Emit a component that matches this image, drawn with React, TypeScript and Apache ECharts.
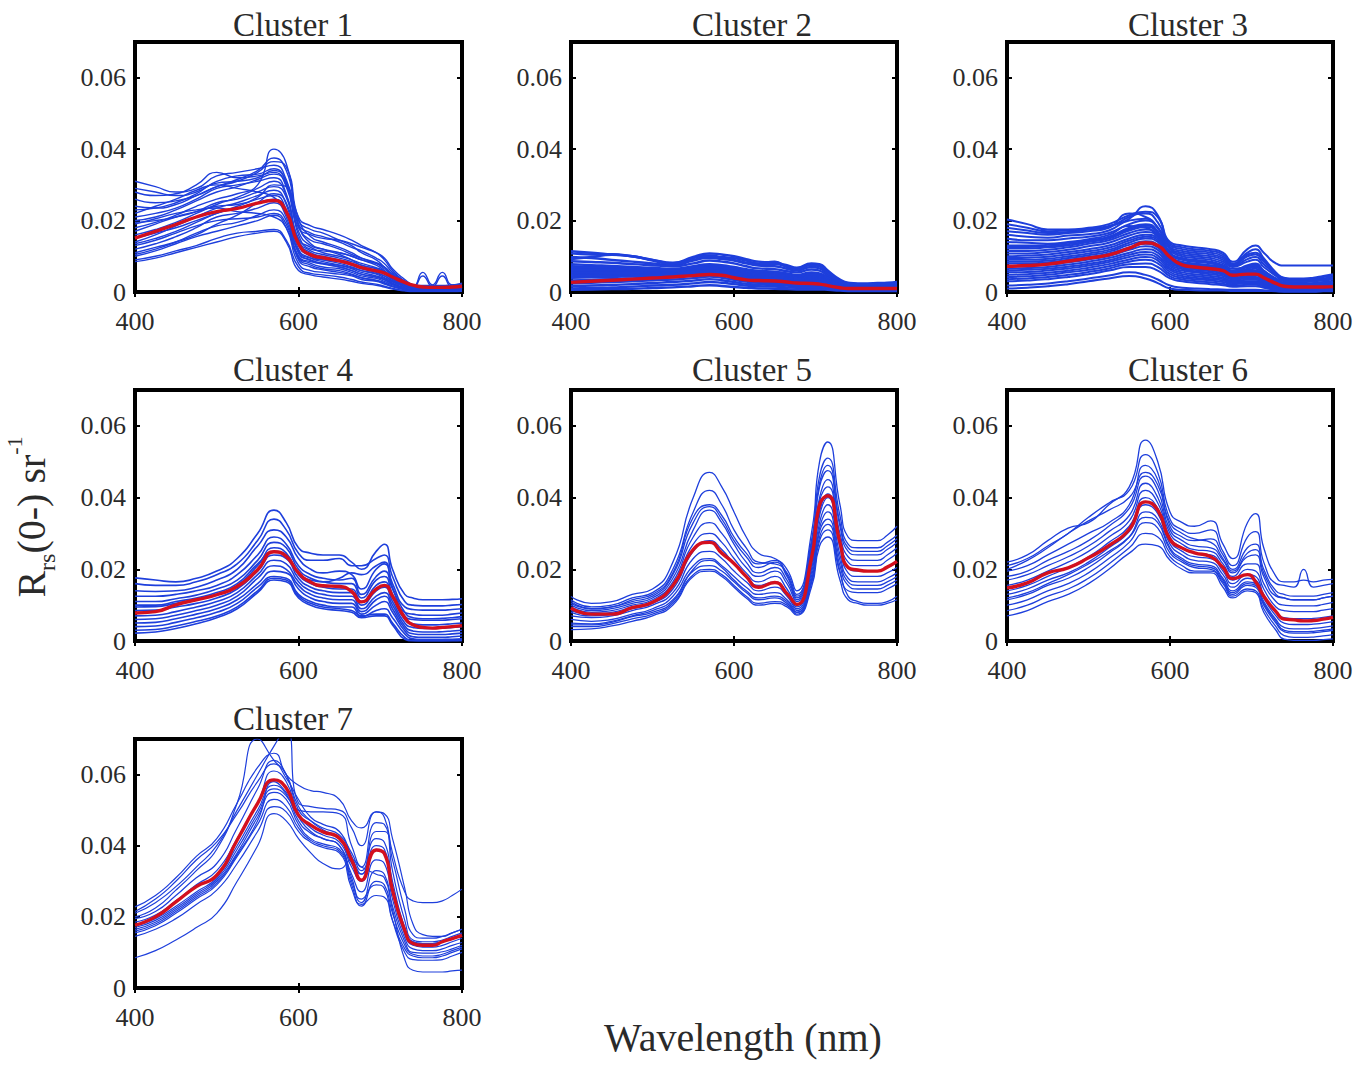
import React, { useEffect, useRef } from 'react';
import * as echarts from 'echarts';

// Wavelength sampling (nm) shared by every spectrum
const WAVELENGTHS = [400, 425, 450, 475, 500, 525, 550, 570, 585, 600, 615, 630, 650, 665, 677, 695, 705, 715, 730, 740, 752, 764, 776, 788, 800];
const X_TICKS = [400, 600, 800];
const Y_TICKS = [0, 0.02, 0.04, 0.06];
const TITLES = ['Cluster 1', 'Cluster 2', 'Cluster 3', 'Cluster 4', 'Cluster 5', 'Cluster 6', 'Cluster 7'];
const X_LABEL = 'Wavelength (nm)';

// All reflectance values below are in units of 1e-3 sr^-1
const C1_MEAN = [15.1, 17.0, 18.9, 21.0, 22.5, 23.4, 24.9, 25.6, 22.5, 13.5, 10.4, 9.6, 8.7, 7.8, 6.8, 5.9, 5.3, 4.2, 2.7, 1.9, 1.4, 1.3, 1.3, 1.4, 1.6];
const C1_SPECTRA = [
  [31.0, 29.5, 28.0, 29.0, 32.5, 33.5, 34.5, 35.5, 31.5, 20.0, 17.5, 16.5, 14.5, 13.0, 11.0, 9.0, 7.0, 5.0, 3.0, 2.0, 1.8, 1.8, 1.8, 2.0, 2.2],
  [29.0, 28.0, 27.0, 28.0, 31.0, 32.5, 33.0, 34.5, 30.5, 19.0, 16.5, 15.5, 14.0, 12.5, 11.5, 9.5, 8.0, 5.5, 3.0, 1.8, 1.6, 1.6, 1.6, 1.8, 2.0],
  [28.0, 27.0, 27.5, 30.0, 33.5, 32.0, 32.5, 33.5, 29.5, 18.0, 16.0, 15.0, 14.5, 13.5, 12.5, 11.0, 9.5, 6.5, 3.5, 2.0, 1.5, 1.5, 1.5, 1.5, 1.8],
  [26.0, 25.0, 25.5, 27.0, 29.5, 31.5, 34.0, 37.5, 34.0, 21.0, 18.5, 17.5, 16.0, 14.5, 13.0, 11.0, 9.0, 6.0, 3.0, 1.8, 1.5, 1.5, 1.5, 1.5, 1.8],
  [24.0, 23.5, 24.5, 27.0, 29.5, 31.0, 33.5, 36.5, 35.0, 20.5, 15.5, 14.0, 12.5, 11.0, 9.5, 8.0, 6.5, 4.5, 2.5, 1.5, 5.5, 2.0, 5.5, 2.0, 2.5],
  [23.0, 23.5, 25.0, 27.5, 30.5, 31.0, 32.0, 34.0, 31.0, 18.5, 14.5, 13.5, 12.0, 10.5, 9.5, 8.2, 7.0, 4.8, 2.5, 1.4, 1.2, 1.2, 1.2, 1.3, 1.5],
  [22.0, 24.0, 26.0, 28.5, 30.0, 29.0, 28.0, 26.5, 22.0, 11.5, 9.5, 9.0, 8.5, 7.5, 6.5, 5.5, 4.5, 3.0, 1.5, 0.8, 0.8, 0.8, 0.8, 0.8, 1.0],
  [21.0, 22.0, 23.5, 26.0, 29.0, 30.0, 31.0, 32.0, 27.5, 15.0, 12.5, 11.0, 10.0, 9.0, 8.0, 6.8, 5.8, 4.0, 2.0, 1.0, 1.0, 1.0, 1.0, 1.0, 1.3],
  [20.0, 21.0, 23.0, 25.5, 28.0, 29.5, 31.5, 33.0, 30.0, 17.0, 13.0, 12.0, 11.0, 10.0, 9.0, 7.5, 6.0, 4.0, 2.0, 1.0, 1.0, 1.0, 1.0, 1.0, 1.2],
  [19.5, 20.0, 21.0, 22.5, 25.0, 26.0, 28.0, 29.5, 26.5, 14.5, 11.5, 10.5, 9.5, 8.5, 7.5, 6.5, 5.5, 3.8, 2.0, 1.0, 1.0, 1.0, 1.0, 1.0, 1.2],
  [19.0, 20.5, 22.0, 23.0, 23.5, 22.5, 22.0, 21.0, 18.0, 10.0, 8.5, 8.0, 7.5, 6.8, 6.0, 5.2, 4.5, 3.2, 1.8, 1.0, 1.0, 1.0, 1.0, 1.0, 1.2],
  [18.0, 19.5, 21.5, 24.0, 26.0, 27.5, 30.0, 40.0, 36.0, 19.0, 13.5, 12.0, 10.5, 9.0, 7.5, 6.5, 5.5, 3.5, 1.5, 0.8, 0.8, 0.8, 0.8, 0.8, 1.0],
  [17.0, 19.0, 21.0, 22.5, 24.0, 24.5, 26.5, 30.0, 29.5, 16.0, 12.0, 11.5, 11.0, 10.0, 9.0, 8.0, 7.0, 5.0, 2.5, 1.5, 1.2, 1.2, 1.2, 1.2, 1.5],
  [16.0, 17.5, 19.5, 22.0, 24.5, 26.5, 29.0, 31.0, 27.0, 14.0, 11.0, 10.0, 9.0, 8.0, 7.0, 6.0, 5.0, 3.5, 2.0, 1.2, 4.5, 1.5, 4.5, 1.5, 2.0],
  [15.0, 16.5, 18.0, 20.0, 22.0, 24.0, 26.0, 27.0, 23.0, 11.0, 9.0, 8.0, 7.0, 6.0, 5.0, 4.2, 3.5, 2.3, 1.0, 0.5, 0.5, 0.5, 0.5, 0.5, 0.7],
  [14.0, 16.0, 18.5, 21.0, 23.5, 25.0, 27.0, 28.5, 24.5, 12.0, 9.5, 8.5, 7.5, 6.5, 5.5, 4.5, 3.8, 2.5, 1.2, 0.6, 0.6, 0.6, 0.6, 0.6, 0.8],
  [13.5, 15.0, 17.0, 19.5, 22.0, 23.5, 25.0, 26.0, 22.5, 11.0, 8.8, 7.8, 7.0, 6.0, 5.0, 4.2, 3.4, 2.2, 1.0, 0.5, 0.5, 0.5, 0.5, 0.5, 0.6],
  [13.0, 14.5, 16.5, 18.5, 20.0, 20.5, 21.0, 22.0, 19.0, 9.5, 7.5, 6.5, 6.0, 5.0, 4.0, 3.2, 2.5, 1.5, 0.8, 0.4, 0.4, 0.4, 0.4, 0.4, 0.5],
  [12.0, 13.5, 15.5, 18.0, 21.0, 22.0, 23.5, 25.0, 21.0, 10.0, 8.0, 7.0, 6.5, 5.5, 4.5, 3.8, 3.0, 2.0, 1.0, 0.5, 0.5, 0.5, 0.5, 0.5, 0.6],
  [11.0, 12.5, 14.0, 16.0, 19.0, 21.5, 25.0, 27.5, 25.0, 13.0, 10.0, 9.0, 8.0, 7.0, 6.0, 5.0, 4.0, 2.8, 1.5, 0.8, 0.8, 0.8, 0.8, 0.8, 1.0],
  [10.5, 12.0, 14.0, 16.5, 18.5, 19.5, 21.5, 23.0, 20.0, 9.0, 7.0, 6.2, 5.5, 4.8, 4.0, 3.3, 2.6, 1.7, 0.8, 0.4, 0.4, 0.4, 0.4, 0.4, 0.5],
  [10.0, 11.5, 13.5, 15.5, 17.0, 18.5, 20.0, 21.5, 18.0, 8.0, 6.0, 5.5, 5.0, 4.5, 3.5, 3.0, 2.2, 1.5, 0.6, 0.3, 0.3, 0.3, 0.3, 0.3, 0.4],
  [9.0, 10.0, 11.5, 13.0, 15.0, 16.5, 17.0, 17.5, 14.5, 7.0, 5.2, 4.8, 4.2, 3.5, 2.8, 2.2, 1.6, 1.0, 0.4, 0.2, 0.2, 0.2, 0.2, 0.2, 0.3],
  [8.5, 9.5, 11.0, 12.5, 14.0, 15.5, 16.5, 17.0, 14.0, 6.0, 4.8, 4.2, 3.6, 3.0, 2.4, 1.9, 1.4, 0.8, 0.3, 0.1, 0.1, 0.1, 0.1, 0.1, 0.2],
];

const C2_MEAN = [2.7, 3.0, 3.3, 3.6, 3.9, 4.2, 4.6, 4.9, 4.7, 4.0, 3.4, 3.2, 3.1, 2.8, 2.5, 2.4, 2.2, 1.8, 1.2, 1.0, 1.0, 1.0, 1.0, 1.0, 1.0];
const C2_SPECTRA = [
  [11.4, 11.0, 10.5, 10.0, 9.0, 8.2, 9.8, 10.8, 10.5, 10.0, 9.2, 8.5, 8.2, 7.5, 6.8, 8.0, 7.8, 6.0, 3.5, 2.6, 2.4, 2.4, 2.5, 2.6, 2.8],
  [10.8, 10.5, 10.6, 10.0, 9.0, 8.0, 9.5, 10.2, 9.8, 9.5, 8.8, 8.0, 8.5, 7.0, 6.5, 7.8, 7.4, 5.5, 3.0, 2.4, 2.2, 2.2, 2.3, 2.4, 2.6],
  [9.8, 9.5, 9.0, 8.5, 8.0, 7.5, 8.8, 9.6, 9.2, 8.8, 8.0, 7.4, 7.2, 6.5, 6.0, 7.0, 6.6, 5.0, 2.8, 2.0, 1.8, 1.8, 1.9, 2.0, 2.2],
  [9.2, 9.8, 10.4, 10.0, 8.8, 7.8, 9.0, 10.0, 9.6, 9.0, 8.2, 7.8, 7.8, 7.2, 6.6, 7.5, 7.2, 5.2, 3.0, 2.2, 2.0, 2.0, 2.1, 2.2, 2.4],
  [8.6, 8.4, 8.2, 7.8, 7.5, 7.2, 8.0, 8.8, 8.5, 8.0, 7.2, 6.6, 6.4, 5.8, 5.5, 6.3, 6.0, 4.5, 2.5, 1.8, 1.6, 1.6, 1.7, 1.8, 2.0],
  [7.8, 7.5, 7.3, 7.0, 6.8, 6.5, 7.2, 7.8, 7.5, 7.0, 6.4, 5.9, 5.7, 5.2, 4.8, 5.5, 5.2, 4.0, 2.2, 1.6, 1.4, 1.4, 1.5, 1.6, 1.8],
  [7.2, 7.1, 7.0, 6.8, 6.5, 6.3, 6.9, 7.5, 7.2, 6.7, 6.0, 5.6, 5.4, 4.9, 4.5, 5.1, 4.8, 3.8, 2.1, 1.5, 1.4, 1.4, 1.4, 1.5, 1.7],
  [6.8, 6.7, 6.6, 6.4, 6.2, 6.0, 6.6, 7.2, 6.9, 6.3, 5.7, 5.3, 5.0, 4.6, 4.2, 4.8, 4.5, 3.5, 2.0, 1.4, 1.3, 1.3, 1.4, 1.5, 1.6],
  [6.3, 6.2, 6.2, 6.0, 5.9, 5.8, 6.3, 6.8, 6.5, 5.9, 5.3, 4.9, 4.7, 4.3, 3.9, 4.4, 4.2, 3.2, 1.9, 1.3, 1.2, 1.2, 1.3, 1.4, 1.5],
  [5.8, 5.8, 5.7, 5.6, 5.5, 5.5, 6.0, 6.5, 6.2, 5.6, 5.0, 4.6, 4.4, 4.0, 3.6, 4.1, 3.9, 3.0, 1.8, 1.2, 1.1, 1.1, 1.2, 1.3, 1.4],
  [5.3, 5.3, 5.3, 5.3, 5.2, 5.2, 5.8, 6.2, 5.9, 5.3, 4.7, 4.3, 4.1, 3.7, 3.3, 3.8, 3.6, 2.8, 1.7, 1.1, 1.0, 1.0, 1.1, 1.2, 1.3],
  [4.8, 4.9, 5.0, 5.0, 5.0, 5.0, 5.6, 6.0, 5.7, 5.0, 4.4, 4.0, 3.8, 3.4, 3.0, 3.5, 3.3, 2.6, 1.6, 1.1, 1.0, 1.0, 1.0, 1.1, 1.2],
  [4.4, 4.5, 4.6, 4.7, 4.8, 4.8, 5.3, 5.7, 5.4, 4.7, 4.1, 3.8, 3.6, 3.2, 2.9, 3.2, 3.0, 2.4, 1.5, 1.0, 0.9, 0.9, 1.0, 1.0, 1.1],
  [4.0, 4.1, 4.2, 4.4, 4.5, 4.6, 5.0, 5.4, 5.1, 4.4, 3.8, 3.5, 3.3, 3.0, 2.7, 3.0, 2.8, 2.2, 1.4, 1.0, 0.9, 0.9, 0.9, 1.0, 1.0],
  [3.2, 3.4, 3.6, 3.8, 4.0, 4.2, 4.6, 5.0, 4.7, 4.0, 3.4, 3.1, 2.9, 2.6, 2.3, 2.5, 2.4, 1.9, 1.2, 0.9, 0.8, 0.8, 0.8, 0.9, 0.9],
  [2.4, 2.6, 2.8, 3.0, 3.3, 3.5, 3.9, 4.3, 4.0, 3.4, 2.9, 2.6, 2.5, 2.2, 2.0, 2.1, 2.0, 1.6, 1.0, 0.8, 0.7, 0.7, 0.7, 0.8, 0.8],
  [1.6, 1.8, 2.0, 2.2, 2.5, 2.8, 3.2, 3.6, 3.3, 2.8, 2.3, 2.1, 2.0, 1.8, 1.6, 1.7, 1.6, 1.3, 0.8, 0.6, 0.6, 0.6, 0.6, 0.6, 0.7],
  [1.0, 1.1, 1.3, 1.5, 1.8, 2.0, 2.4, 2.8, 2.6, 2.2, 1.8, 1.6, 1.5, 1.3, 1.2, 1.2, 1.1, 0.9, 0.6, 0.5, 0.5, 0.5, 0.5, 0.5, 0.5],
  [0.6, 0.7, 0.8, 0.9, 1.1, 1.3, 1.6, 1.9, 1.7, 1.4, 1.2, 1.0, 0.9, 0.8, 0.7, 0.7, 0.7, 0.6, 0.4, 0.3, 0.3, 0.3, 0.3, 0.3, 0.3],
];

const C3_MEAN = [7.2, 7.4, 7.8, 8.6, 9.5, 10.4, 12.3, 13.8, 13.0, 9.8, 7.6, 7.0, 6.5, 6.0, 4.7, 5.0, 5.0, 4.0, 2.4, 1.6, 1.4, 1.4, 1.4, 1.4, 1.5];
const C3_SPECTRA = [
  [20.3, 19.0, 17.5, 17.5, 18.0, 19.0, 21.5, 22.5, 21.0, 14.0, 13.0, 12.5, 12.0, 11.0, 8.5, 12.0, 13.0, 11.0, 8.0, 7.4, 7.4, 7.4, 7.4, 7.4, 7.4],
  [19.0, 18.0, 17.0, 17.2, 17.8, 18.5, 20.5, 24.0, 21.5, 13.5, 12.5, 12.0, 11.5, 10.5, 8.0, 11.0, 12.0, 9.5, 5.5, 4.0, 3.8, 3.8, 4.0, 4.5, 5.0],
  [18.0, 17.2, 16.5, 16.8, 17.4, 18.2, 21.0, 22.0, 19.5, 13.0, 12.0, 11.5, 11.0, 10.0, 7.8, 10.5, 11.0, 9.0, 5.2, 3.8, 3.5, 3.5, 3.7, 4.2, 4.6],
  [17.0, 16.5, 16.0, 16.5, 17.0, 18.0, 22.0, 21.0, 18.0, 12.5, 11.5, 11.0, 10.5, 9.5, 7.5, 10.0, 10.5, 8.5, 5.0, 3.5, 3.2, 3.2, 3.4, 3.8, 4.2],
  [16.0, 15.5, 15.2, 15.8, 16.2, 17.2, 20.0, 20.5, 18.0, 12.2, 11.0, 10.5, 10.0, 9.0, 7.2, 9.2, 9.8, 7.8, 4.8, 3.2, 3.0, 3.0, 3.2, 3.5, 3.8],
  [15.0, 14.5, 14.5, 15.0, 15.5, 16.5, 19.0, 20.0, 18.0, 12.0, 10.5, 10.0, 9.5, 8.5, 7.0, 8.5, 9.0, 7.0, 4.5, 3.0, 2.8, 2.8, 3.0, 3.2, 3.5],
  [14.0, 13.8, 13.5, 14.0, 14.8, 16.0, 18.5, 18.0, 15.5, 11.5, 10.0, 9.5, 9.0, 8.0, 6.5, 7.0, 7.2, 5.5, 3.5, 2.5, 2.2, 2.2, 2.3, 2.5, 2.8],
  [13.0, 13.0, 13.2, 13.8, 14.5, 15.5, 18.0, 19.0, 17.0, 11.0, 9.5, 9.0, 8.5, 7.5, 6.0, 7.5, 8.0, 6.0, 3.8, 2.6, 2.4, 2.4, 2.5, 2.8, 3.0],
  [12.6, 12.6, 12.8, 13.4, 14.2, 15.2, 17.6, 18.6, 16.8, 10.8, 9.2, 8.8, 8.2, 7.4, 5.9, 7.2, 7.8, 5.9, 3.6, 2.5, 2.3, 2.3, 2.4, 2.6, 2.9],
  [12.2, 12.2, 12.5, 13.0, 14.0, 15.0, 17.2, 18.2, 16.5, 10.5, 9.0, 8.5, 8.0, 7.2, 5.8, 7.0, 7.5, 5.8, 3.5, 2.4, 2.2, 2.2, 2.2, 2.5, 2.8],
  [11.5, 11.5, 11.8, 12.5, 13.5, 14.5, 16.5, 17.5, 16.0, 10.0, 8.5, 8.0, 7.5, 7.0, 5.5, 6.5, 7.0, 5.5, 3.2, 2.2, 2.0, 2.0, 2.0, 2.2, 2.5],
  [10.8, 10.8, 11.2, 11.8, 12.8, 13.8, 15.8, 16.8, 15.5, 9.8, 8.2, 7.8, 7.2, 6.8, 5.2, 6.2, 6.5, 5.1, 3.0, 2.0, 1.8, 1.8, 1.8, 2.0, 2.2],
  [10.0, 10.2, 10.5, 11.2, 12.0, 13.0, 15.0, 16.0, 15.0, 9.5, 8.0, 7.5, 7.0, 6.5, 5.0, 6.0, 6.0, 4.8, 2.8, 1.8, 1.6, 1.6, 1.6, 1.8, 2.0],
  [9.5, 9.6, 9.9, 10.6, 11.4, 12.4, 14.4, 15.5, 14.5, 9.2, 7.8, 7.2, 6.8, 6.2, 4.8, 5.8, 5.8, 4.5, 2.6, 1.6, 1.4, 1.4, 1.4, 1.6, 1.8],
  [9.0, 9.0, 9.3, 10.0, 10.8, 11.8, 13.8, 15.0, 14.0, 9.0, 7.5, 7.0, 6.5, 6.0, 4.5, 5.5, 5.5, 4.2, 2.4, 1.5, 1.3, 1.3, 1.3, 1.5, 1.7],
  [8.5, 8.5, 8.8, 9.5, 10.3, 11.3, 13.2, 14.2, 13.2, 8.6, 7.2, 6.6, 6.2, 5.6, 4.3, 5.0, 5.0, 3.9, 2.2, 1.4, 1.2, 1.2, 1.2, 1.4, 1.6],
  [8.0, 8.0, 8.3, 9.0, 9.8, 10.8, 12.5, 13.5, 12.5, 8.2, 6.8, 6.2, 5.8, 5.2, 4.0, 4.5, 4.6, 3.6, 2.0, 1.2, 1.0, 1.0, 1.0, 1.2, 1.4],
  [7.2, 7.3, 7.6, 8.3, 9.1, 10.1, 11.8, 12.8, 11.8, 7.7, 6.4, 5.8, 5.4, 4.9, 3.8, 4.2, 4.2, 3.3, 1.8, 1.1, 0.9, 0.9, 0.9, 1.1, 1.3],
  [6.5, 6.7, 7.0, 7.7, 8.5, 9.5, 11.0, 12.0, 11.0, 7.2, 6.0, 5.5, 5.0, 4.5, 3.5, 3.8, 3.8, 3.0, 1.6, 1.0, 0.8, 0.8, 0.8, 1.0, 1.2],
  [6.0, 6.2, 6.5, 7.1, 7.9, 8.9, 10.4, 11.2, 10.2, 6.7, 5.5, 5.0, 4.5, 4.0, 3.1, 3.4, 3.4, 2.7, 1.4, 0.9, 0.7, 0.7, 0.7, 0.9, 1.1],
  [5.5, 5.6, 6.0, 6.6, 7.4, 8.4, 9.8, 10.5, 9.5, 6.2, 5.0, 4.5, 4.0, 3.6, 2.8, 3.0, 3.0, 2.4, 1.2, 0.8, 0.6, 0.6, 0.6, 0.8, 1.0],
  [4.8, 5.0, 5.4, 6.0, 6.8, 7.8, 9.1, 9.8, 8.8, 5.6, 4.5, 4.0, 3.6, 3.2, 2.5, 2.7, 2.7, 2.1, 1.0, 0.7, 0.5, 0.5, 0.5, 0.7, 0.9],
  [4.2, 4.4, 4.8, 5.5, 6.2, 7.2, 8.5, 9.0, 8.0, 5.0, 4.0, 3.6, 3.2, 2.8, 2.2, 2.4, 2.4, 1.8, 0.9, 0.6, 0.5, 0.5, 0.5, 0.6, 0.8],
  [3.6, 3.8, 4.2, 4.8, 5.6, 6.6, 7.8, 8.0, 7.0, 4.4, 3.5, 3.1, 2.7, 2.3, 1.8, 2.0, 2.0, 1.5, 0.7, 0.5, 0.4, 0.4, 0.4, 0.5, 0.7],
  [3.0, 3.2, 3.6, 4.2, 5.0, 6.0, 7.0, 7.0, 6.0, 3.8, 3.0, 2.6, 2.2, 1.9, 1.5, 1.6, 1.6, 1.2, 0.6, 0.4, 0.4, 0.4, 0.4, 0.5, 0.6],
  [1.8, 2.0, 2.4, 3.0, 3.8, 4.6, 5.5, 4.8, 3.5, 1.8, 1.2, 1.0, 0.8, 0.7, 0.6, 0.6, 0.6, 0.5, 0.3, 0.2, 0.2, 0.2, 0.2, 0.3, 0.4],
  [1.0, 1.2, 1.6, 2.2, 3.0, 3.8, 4.5, 3.8, 2.5, 1.0, 0.6, 0.5, 0.4, 0.4, 0.3, 0.3, 0.3, 0.3, 0.2, 0.1, 0.1, 0.1, 0.1, 0.2, 0.2],
];

const C4_MEAN = [7.8, 8.2, 10.1, 11.5, 12.9, 15.2, 19.9, 24.9, 23.6, 19.0, 16.4, 15.4, 15.2, 13.8, 10.9, 14.5, 15.5, 12.5, 6.5, 4.5, 3.8, 3.6, 3.8, 4.0, 4.3];
const C4_SPECTRA = [
  [17.6, 17.0, 16.5, 17.5, 19.5, 23.0, 30.0, 36.5, 33.0, 26.0, 24.5, 24.0, 24.0, 22.0, 20.0, 25.0, 27.0, 20.0, 13.0, 12.0, 11.5, 11.5, 11.5, 11.6, 11.8],
  [16.0, 15.5, 15.5, 16.5, 18.5, 21.5, 28.0, 34.0, 31.0, 24.5, 22.5, 22.5, 23.0, 21.0, 21.0, 23.0, 24.0, 18.0, 11.0, 10.0, 9.8, 9.8, 9.8, 10.0, 10.2],
  [14.0, 13.8, 14.0, 15.0, 17.0, 20.0, 26.5, 31.0, 29.0, 23.0, 20.0, 19.0, 19.5, 18.5, 14.5, 20.0, 21.5, 16.0, 9.5, 8.8, 8.6, 8.6, 8.6, 8.8, 9.0],
  [12.5, 12.5, 13.0, 14.0, 15.5, 18.5, 24.0, 29.0, 27.0, 21.0, 18.5, 17.5, 17.0, 17.5, 13.0, 18.0, 19.5, 14.5, 8.0, 7.5, 7.2, 7.2, 7.2, 7.5, 7.8],
  [11.0, 11.0, 11.8, 12.8, 14.5, 17.0, 22.5, 27.5, 26.0, 20.0, 17.5, 16.5, 16.0, 16.0, 12.0, 17.0, 18.0, 13.0, 7.0, 6.0, 5.8, 5.8, 5.8, 6.0, 6.2],
  [10.0, 10.0, 11.0, 12.0, 13.5, 16.0, 21.5, 25.0, 24.0, 19.0, 17.0, 16.5, 17.5, 19.0, 18.5, 21.0, 22.0, 15.0, 8.0, 6.5, 6.2, 6.2, 6.3, 6.5, 6.8],
  [9.5, 9.6, 10.5, 11.5, 13.0, 15.5, 21.0, 26.0, 24.5, 18.5, 16.0, 15.0, 14.5, 14.5, 11.0, 15.5, 16.5, 12.0, 6.0, 4.8, 4.5, 4.5, 4.6, 4.8, 5.0],
  [8.5, 8.6, 9.5, 10.5, 12.0, 14.5, 19.5, 24.0, 23.0, 17.5, 15.0, 14.0, 13.5, 13.5, 10.0, 14.0, 15.0, 11.0, 5.0, 3.8, 3.5, 3.5, 3.6, 3.8, 4.0],
  [7.0, 7.2, 8.2, 9.5, 11.0, 13.5, 18.5, 22.5, 21.5, 16.5, 14.0, 13.0, 12.5, 12.5, 9.0, 12.5, 13.5, 10.0, 4.2, 2.8, 2.5, 2.5, 2.6, 2.8, 3.0],
  [6.0, 6.2, 7.2, 8.5, 10.0, 12.5, 17.5, 21.0, 20.0, 15.5, 13.0, 12.0, 11.5, 11.5, 8.2, 11.5, 12.5, 9.0, 3.5, 2.0, 1.8, 1.8, 1.8, 2.0, 2.2],
  [5.0, 5.2, 6.2, 7.5, 9.0, 11.5, 16.0, 19.5, 19.0, 14.5, 12.0, 11.0, 10.5, 10.5, 7.5, 10.0, 11.0, 8.0, 2.8, 1.2, 1.0, 1.0, 1.0, 1.2, 1.4],
  [4.0, 4.2, 5.2, 6.5, 8.0, 10.5, 15.0, 18.0, 17.5, 13.0, 11.0, 10.0, 9.5, 9.5, 6.8, 8.5, 9.0, 6.5, 2.0, 0.6, 0.4, 0.4, 0.4, 0.5, 0.6],
  [3.0, 3.2, 4.2, 5.5, 7.0, 9.5, 14.0, 17.5, 17.0, 12.5, 10.5, 9.5, 9.0, 8.5, 7.0, 7.5, 7.5, 5.0, 1.0, 0.2, 0.1, 0.1, 0.1, 0.2, 0.3],
  [2.2, 2.5, 3.5, 4.8, 6.5, 9.0, 13.5, 17.0, 16.5, 12.0, 10.0, 9.0, 8.5, 8.0, 6.5, 7.0, 7.0, 4.5, 0.5, 0.0, 0.0, 0.0, 0.0, 0.0, 0.1],
];

const C5_MEAN = [9.2, 7.5, 7.5, 9.3, 10.8, 15.5, 25.5, 27.5, 24.5, 21.6, 18.0, 15.0, 16.3, 13.2, 10.2, 23.0, 38.0, 40.5, 27.5, 20.5, 19.8, 19.5, 19.5, 20.6, 22.2];
const C5_SPECTRA = [
  [12.4, 10.5, 11.0, 13.0, 14.5, 22.0, 40.0, 47.0, 43.0, 36.0, 29.0, 24.5, 23.0, 20.0, 14.0, 30.0, 50.0, 55.5, 38.0, 29.0, 28.0, 28.0, 28.0, 29.5, 32.0],
  [11.5, 9.5, 10.0, 12.0, 13.5, 20.0, 36.0, 42.0, 38.0, 31.0, 26.0, 22.0, 21.5, 19.0, 13.0, 28.0, 46.0, 51.0, 35.0, 27.0, 26.0, 26.0, 26.0, 27.5, 29.5],
  [11.0, 9.0, 9.5, 11.5, 13.0, 19.0, 34.5, 38.0, 35.0, 29.0, 24.5, 21.5, 22.5, 18.5, 12.5, 27.0, 44.0, 49.0, 33.0, 26.0, 25.0, 25.0, 25.0, 26.5, 28.5],
  [10.5, 9.0, 9.5, 11.0, 12.5, 18.5, 33.0, 37.5, 34.0, 28.0, 23.5, 20.5, 22.0, 18.0, 12.0, 26.0, 43.0, 47.5, 32.0, 25.0, 24.0, 24.0, 24.0, 25.5, 27.5],
  [10.0, 8.5, 9.0, 10.5, 12.0, 17.5, 31.0, 36.5, 33.0, 27.0, 22.0, 19.0, 20.5, 17.0, 11.5, 25.0, 40.0, 45.0, 30.0, 23.5, 22.5, 22.5, 22.5, 24.0, 26.0],
  [9.5, 8.0, 8.5, 10.0, 11.5, 16.5, 29.0, 33.0, 30.0, 25.0, 20.5, 18.0, 19.5, 16.0, 11.0, 23.0, 39.0, 43.0, 28.5, 22.0, 21.0, 21.0, 21.0, 22.5, 24.5],
  [8.5, 7.5, 8.0, 9.5, 11.0, 15.5, 27.0, 30.0, 27.5, 23.0, 19.0, 16.5, 18.0, 14.5, 10.0, 21.0, 36.0, 41.0, 27.0, 20.5, 19.5, 19.5, 19.5, 20.5, 22.0],
  [8.0, 7.0, 7.5, 9.0, 10.5, 14.5, 25.0, 28.0, 25.5, 21.5, 18.0, 15.5, 16.5, 13.5, 9.5, 20.0, 35.0, 40.0, 26.0, 19.0, 18.0, 18.0, 18.0, 19.0, 20.5],
  [7.0, 6.5, 7.0, 8.5, 10.0, 13.5, 23.0, 25.0, 23.0, 19.5, 16.5, 14.0, 15.0, 12.5, 9.0, 19.0, 33.0, 38.0, 24.0, 17.5, 16.5, 16.5, 16.5, 17.5, 19.0],
  [6.0, 5.5, 6.0, 7.5, 9.0, 12.5, 21.0, 23.0, 21.0, 18.0, 15.0, 13.0, 13.5, 11.5, 8.5, 18.0, 31.5, 36.0, 22.5, 16.5, 15.5, 15.5, 15.5, 16.5, 18.0],
  [5.0, 4.8, 5.5, 7.0, 8.5, 11.5, 19.5, 21.0, 19.5, 16.5, 13.5, 11.5, 12.0, 10.5, 8.0, 17.0, 30.5, 34.0, 21.0, 15.5, 14.5, 14.5, 14.5, 15.5, 17.0],
  [4.5, 4.5, 5.2, 6.8, 8.0, 11.0, 20.0, 22.5, 20.5, 17.0, 14.0, 12.0, 12.5, 11.0, 8.0, 16.5, 29.0, 32.5, 19.5, 12.5, 11.0, 10.5, 10.5, 11.0, 12.5],
  [4.0, 4.0, 4.8, 6.2, 7.5, 10.5, 18.5, 20.0, 18.5, 15.5, 12.5, 10.5, 11.0, 10.0, 7.5, 16.0, 28.0, 31.0, 19.0, 14.0, 13.5, 13.5, 13.5, 14.5, 16.0],
  [3.2, 3.4, 4.2, 5.5, 7.0, 10.0, 18.0, 19.5, 18.0, 15.0, 12.0, 10.0, 10.5, 9.5, 7.2, 15.0, 26.5, 29.0, 17.0, 11.5, 10.5, 10.0, 10.0, 10.5, 11.5],
];

const C6_MEAN = [14.8, 16.2, 19.0, 20.4, 23.2, 26.6, 31.1, 38.8, 36.5, 28.3, 25.9, 24.6, 23.5, 20.5, 17.4, 18.5, 16.5, 12.5, 8.2, 6.1, 5.9, 5.6, 5.7, 6.1, 6.6];
const C6_SPECTRA = [
  [22.0, 24.0, 28.0, 31.5, 33.0, 38.0, 43.0, 56.0, 50.0, 36.0, 33.0, 32.0, 33.5, 27.0, 23.0, 33.0, 35.5, 26.0, 18.0, 16.5, 16.5, 17.0, 16.5, 17.0, 17.2],
  [21.0, 23.0, 26.5, 30.0, 34.5, 38.5, 42.0, 52.0, 47.0, 34.0, 31.0, 30.0, 31.0, 25.0, 21.0, 29.0, 30.5, 22.0, 16.0, 15.5, 15.0, 20.0, 15.0, 15.5, 16.0],
  [20.0, 22.5, 26.0, 30.0, 33.5, 36.5, 40.0, 47.0, 43.5, 33.0, 30.0, 28.5, 27.5, 23.0, 19.5, 24.5, 25.5, 19.0, 13.0, 12.0, 11.5, 11.5, 11.5, 12.0, 12.5],
  [19.5, 21.0, 24.0, 27.0, 30.0, 33.0, 38.0, 49.0, 45.0, 32.0, 29.0, 28.0, 28.5, 24.0, 20.0, 26.0, 27.0, 20.0, 14.0, 13.0, 12.5, 12.5, 12.5, 13.0, 13.5],
  [18.0, 19.5, 22.5, 25.0, 28.0, 32.0, 37.0, 46.0, 42.0, 31.0, 28.0, 26.5, 26.0, 22.5, 19.0, 23.5, 24.0, 18.0, 12.5, 12.0, 11.5, 11.5, 11.5, 12.0, 12.5],
  [17.0, 18.5, 21.0, 23.5, 26.5, 30.5, 35.0, 44.0, 40.0, 30.0, 27.0, 25.5, 25.0, 21.5, 18.0, 21.5, 21.5, 16.0, 11.0, 10.0, 9.8, 9.8, 9.8, 10.2, 10.8],
  [15.5, 17.0, 19.5, 22.0, 25.0, 29.0, 33.5, 42.0, 38.5, 29.0, 26.0, 24.5, 24.0, 20.5, 17.0, 20.0, 19.5, 14.5, 9.5, 8.5, 8.2, 8.2, 8.2, 8.6, 9.0],
  [14.0, 15.5, 18.0, 20.5, 23.5, 27.5, 32.0, 40.0, 37.0, 28.0, 25.0, 23.5, 23.0, 19.5, 16.0, 18.5, 18.0, 13.0, 8.0, 6.5, 6.2, 6.2, 6.3, 6.6, 7.0],
  [13.0, 14.5, 17.0, 19.0, 22.0, 26.0, 30.5, 38.0, 35.5, 27.0, 24.0, 22.5, 22.0, 18.5, 15.0, 17.5, 17.0, 12.0, 7.0, 5.0, 4.6, 4.6, 4.7, 5.0, 5.4],
  [12.0, 13.5, 16.0, 18.5, 21.5, 25.0, 29.0, 34.5, 33.0, 25.5, 22.5, 21.0, 20.5, 17.0, 13.5, 16.0, 15.5, 10.5, 5.5, 3.0, 2.6, 2.6, 2.7, 3.0, 3.4],
  [11.5, 13.0, 15.5, 17.5, 20.5, 24.5, 29.0, 36.0, 34.0, 26.0, 23.0, 21.5, 21.0, 17.5, 14.0, 16.5, 16.0, 11.0, 6.0, 3.8, 3.4, 3.4, 3.5, 3.8, 4.2],
  [10.0, 11.5, 14.0, 16.0, 19.0, 23.0, 27.5, 33.0, 31.5, 24.5, 22.0, 20.5, 20.0, 16.5, 13.0, 15.5, 15.0, 10.0, 5.0, 2.6, 2.2, 2.2, 2.3, 2.6, 3.0],
  [8.5, 10.0, 12.5, 14.5, 17.5, 21.5, 26.0, 30.0, 29.0, 23.5, 21.0, 19.5, 19.5, 16.0, 12.5, 14.5, 14.0, 9.0, 4.0, 1.5, 1.0, 1.0, 1.1, 1.4, 1.8],
  [7.0, 8.5, 11.0, 13.0, 16.0, 20.0, 24.5, 27.0, 26.5, 22.5, 20.0, 19.0, 19.0, 15.0, 12.0, 14.0, 13.5, 8.0, 3.0, 0.5, 0.2, 0.2, 0.2, 0.4, 0.6],
];

const C7_MEAN = [17.7, 20.0, 24.2, 28.5, 31.7, 41.6, 51.9, 58.5, 56.2, 48.6, 45.8, 43.9, 42.1, 36.0, 30.3, 38.8, 37.8, 27.5, 16.2, 12.5, 12.0, 12.0, 13.0, 13.9, 14.8];
const C7_SPECTRA = [
  [22.8, 26.0, 31.0, 37.0, 42.0, 52.0, 62.0, 66.0, 60.0, 57.0, 55.5, 55.0, 53.0, 47.0, 45.0, 49.5, 48.0, 38.0, 27.0, 24.5, 24.0, 24.0, 24.5, 26.0, 27.8],
  [21.0, 24.0, 28.5, 34.0, 40.0, 50.0, 60.0, 68.0, 73.0, 52.0, 51.0, 50.5, 50.0, 45.0, 40.0, 49.5, 49.0, 42.0, 28.0, 18.0, 15.0, 14.5, 14.5, 15.5, 16.5],
  [20.0, 22.5, 27.5, 33.0, 39.0, 52.0, 70.0, 64.0, 60.0, 50.0, 47.0, 45.0, 43.0, 38.0, 33.0, 42.0, 41.0, 30.0, 17.0, 13.0, 12.5, 12.5, 13.0, 14.0, 15.0],
  [21.5, 25.0, 30.0, 36.0, 41.0, 49.0, 58.0, 63.0, 59.0, 53.0, 48.0, 46.0, 44.0, 37.0, 32.0, 44.0, 44.0, 36.0, 22.0, 15.0, 14.0, 14.0, 14.5, 15.5, 16.5],
  [19.5, 21.5, 26.0, 31.0, 35.0, 45.0, 56.0, 64.0, 60.0, 51.0, 47.0, 44.5, 42.0, 35.0, 32.0, 40.0, 39.0, 28.0, 16.0, 13.0, 12.5, 12.5, 13.0, 14.0, 15.0],
  [18.5, 20.5, 24.5, 29.0, 33.0, 42.0, 52.0, 61.0, 58.0, 49.0, 45.0, 43.0, 41.0, 34.0, 30.0, 39.0, 38.0, 27.0, 15.0, 12.0, 11.5, 11.5, 12.0, 13.0, 14.0],
  [16.0, 18.0, 21.5, 25.5, 29.5, 37.5, 47.0, 58.0, 55.0, 50.0, 49.5, 49.5, 49.0, 40.0, 34.0, 46.5, 46.0, 33.0, 19.0, 13.5, 13.0, 13.0, 13.5, 14.5, 15.5],
  [17.5, 19.5, 23.0, 27.0, 31.0, 40.0, 50.0, 57.0, 54.5, 47.0, 43.5, 42.0, 40.0, 32.0, 27.0, 36.0, 35.0, 25.0, 14.0, 11.0, 10.5, 10.5, 11.0, 12.0, 12.8],
  [17.0, 19.0, 22.5, 26.5, 30.5, 39.0, 49.0, 56.0, 54.0, 48.0, 44.0, 42.0, 40.0, 31.0, 25.0, 29.0, 28.0, 19.0, 10.0, 8.0, 7.8, 7.8, 8.0, 9.0, 10.0],
  [16.5, 18.5, 22.0, 26.0, 30.0, 38.0, 48.0, 55.0, 53.0, 46.0, 42.0, 40.5, 39.0, 30.0, 24.0, 33.0, 32.0, 23.0, 13.0, 10.0, 9.8, 9.8, 10.2, 11.0, 12.0],
  [15.5, 17.5, 21.0, 25.0, 29.0, 37.0, 46.0, 53.0, 51.0, 45.0, 41.5, 40.0, 38.5, 29.0, 23.0, 30.0, 29.0, 21.0, 12.0, 9.5, 9.0, 9.0, 9.5, 10.5, 11.5],
  [14.5, 16.5, 19.5, 23.5, 27.5, 35.0, 44.0, 51.0, 49.5, 44.0, 41.0, 39.5, 38.0, 28.0, 23.5, 26.0, 25.5, 19.0, 11.0, 9.0, 8.5, 8.5, 9.0, 10.0, 11.0],
  [8.5, 10.5, 13.5, 17.0, 21.0, 30.0, 40.0, 49.0, 47.0, 42.0, 38.0, 35.0, 33.5, 36.0, 34.0, 32.0, 31.0, 22.0, 8.0, 5.0, 4.5, 4.5, 4.5, 4.8, 5.0],
];

const CLUSTER_MEANS = [C1_MEAN, C2_MEAN, C3_MEAN, C4_MEAN, C5_MEAN, C6_MEAN, C7_MEAN];
const CLUSTER_SPECTRA = [C1_SPECTRA, C2_SPECTRA, C3_SPECTRA, C4_SPECTRA, C5_SPECTRA, C6_SPECTRA, C7_SPECTRA];

// Layout (pixels)
const GRID_BOXES = [
  { left: 135, top: 42, width: 327, height: 250 },
  { left: 571, top: 42, width: 326, height: 250 },
  { left: 1007, top: 42, width: 326, height: 250 },
  { left: 135, top: 390, width: 327, height: 251 },
  { left: 571, top: 390, width: 326, height: 251 },
  { left: 1007, top: 390, width: 326, height: 251 },
  { left: 135, top: 739, width: 327, height: 249 },
];
const TITLE_POS = [[293, 25], [752, 25], [1188, 25], [293, 370], [752, 370], [1188, 370], [293, 719]];
const BLUE_WIDTH = [1.4, 2.4, 2.0, 1.6, 1.3, 1.3, 1.2];

const SERIF = '"Liberation Serif", "Times New Roman", serif';
const BLUE = '#1e3fdc';
const RED = '#d3101e';
const TEXT = '#2a2a2a';

function buildOption() {
  const grid: any[] = [];
  const xAxis: any[] = [];
  const yAxis: any[] = [];
  const series: any[] = [];
  const graphic: any[] = [];
  const tick = { show: true, inside: true, length: 5, lineStyle: { color: '#000', width: 2 } };

  GRID_BOXES.forEach((g, k) => {
    grid.push({ ...g, show: true, borderColor: '#000', borderWidth: 4, backgroundColor: 'transparent' });
    xAxis.push({
      type: 'value', gridIndex: k, min: 400, max: 800, interval: 200, position: 'bottom',
      axisLine: { show: false }, axisTick: tick, splitLine: { show: false },
      axisLabel: {
        fontFamily: SERIF, fontSize: 26, color: TEXT, margin: 16,
        formatter: (v: number) => (X_TICKS.includes(v) ? String(v) : ''),
      },
    });
    xAxis.push({
      type: 'value', gridIndex: k, min: 400, max: 800, interval: 200, position: 'top',
      axisLine: { show: false }, axisTick: tick, splitLine: { show: false }, axisLabel: { show: false },
    });
    yAxis.push({
      type: 'value', gridIndex: k, min: 0, max: 0.07, interval: 0.02, position: 'left',
      axisLine: { show: false }, axisTick: tick, splitLine: { show: false },
      axisLabel: {
        fontFamily: SERIF, fontSize: 26, color: TEXT, margin: 9, showMaxLabel: false,
        formatter: (v: number) => {
          const t = Y_TICKS.find((y) => Math.abs(y - v) < 1e-9);
          if (t === undefined) return '';
          return t === 0 ? '0' : t.toFixed(2);
        },
      },
    });
    yAxis.push({
      type: 'value', gridIndex: k, min: 0, max: 0.07, interval: 0.02, position: 'right',
      axisLine: { show: false }, axisTick: tick, splitLine: { show: false }, axisLabel: { show: false },
    });

    CLUSTER_SPECTRA[k].forEach((spec, j) => {
      series.push({
        name: `${TITLES[k]} spectrum ${j + 1}`,
        type: 'line', xAxisIndex: 2 * k, yAxisIndex: 2 * k,
        data: spec.map((v, i) => [WAVELENGTHS[i], v / 1000]),
        showSymbol: false, smooth: 0.55, silent: true, z: 2,
        lineStyle: { color: BLUE, width: BLUE_WIDTH[k] },
      });
    });
    series.push({
      name: `${TITLES[k]} mean`,
      type: 'line', xAxisIndex: 2 * k, yAxisIndex: 2 * k,
      data: CLUSTER_MEANS[k].map((v, i) => [WAVELENGTHS[i], v / 1000]),
      showSymbol: false, smooth: 0.55, silent: true, z: 3,
      lineStyle: { color: RED, width: 3.4 },
    });

    graphic.push({
      type: 'text', x: TITLE_POS[k][0], y: TITLE_POS[k][1],
      style: { text: TITLES[k], fontFamily: SERIF, fontSize: 33, fill: TEXT, align: 'center', verticalAlign: 'middle' },
    });
  });

  graphic.push({
    type: 'text', x: 743, y: 1037,
    style: { text: X_LABEL, fontFamily: SERIF, fontSize: 40, fill: TEXT, align: 'center', verticalAlign: 'middle' },
  });
  graphic.push({
    type: 'text', x: 31, y: 517, rotation: Math.PI / 2,
    style: {
      text: '{m|R}{s|rs}{m|(0-) sr}{p|-1}',
      align: 'center', verticalAlign: 'middle', fill: TEXT, fontFamily: SERIF, fontSize: 40,
      rich: {
        m: { fontFamily: SERIF, fontSize: 40, fill: TEXT, lineHeight: 56 },
        s: { fontFamily: SERIF, fontSize: 24, fill: TEXT, lineHeight: 18, verticalAlign: 'bottom' },
        p: { fontFamily: SERIF, fontSize: 22, fill: TEXT, lineHeight: 42, verticalAlign: 'top' },
      },
    },
  });

  return { animation: false, backgroundColor: '#ffffff', grid, xAxis, yAxis, series, graphic };
}

export default function App() {
  const ref = useRef<HTMLDivElement>(null);
  useEffect(() => {
    if (!ref.current) return;
    const chart = echarts.init(ref.current, undefined, { renderer: 'svg' });
    chart.setOption(buildOption());
    return () => chart.dispose();
  }, []);
  return (
    <div
      ref={ref}
      style={{ position: 'absolute', left: 0, top: 0, width: 1371, height: 1083, background: '#fff' }}
    />
  );
}
